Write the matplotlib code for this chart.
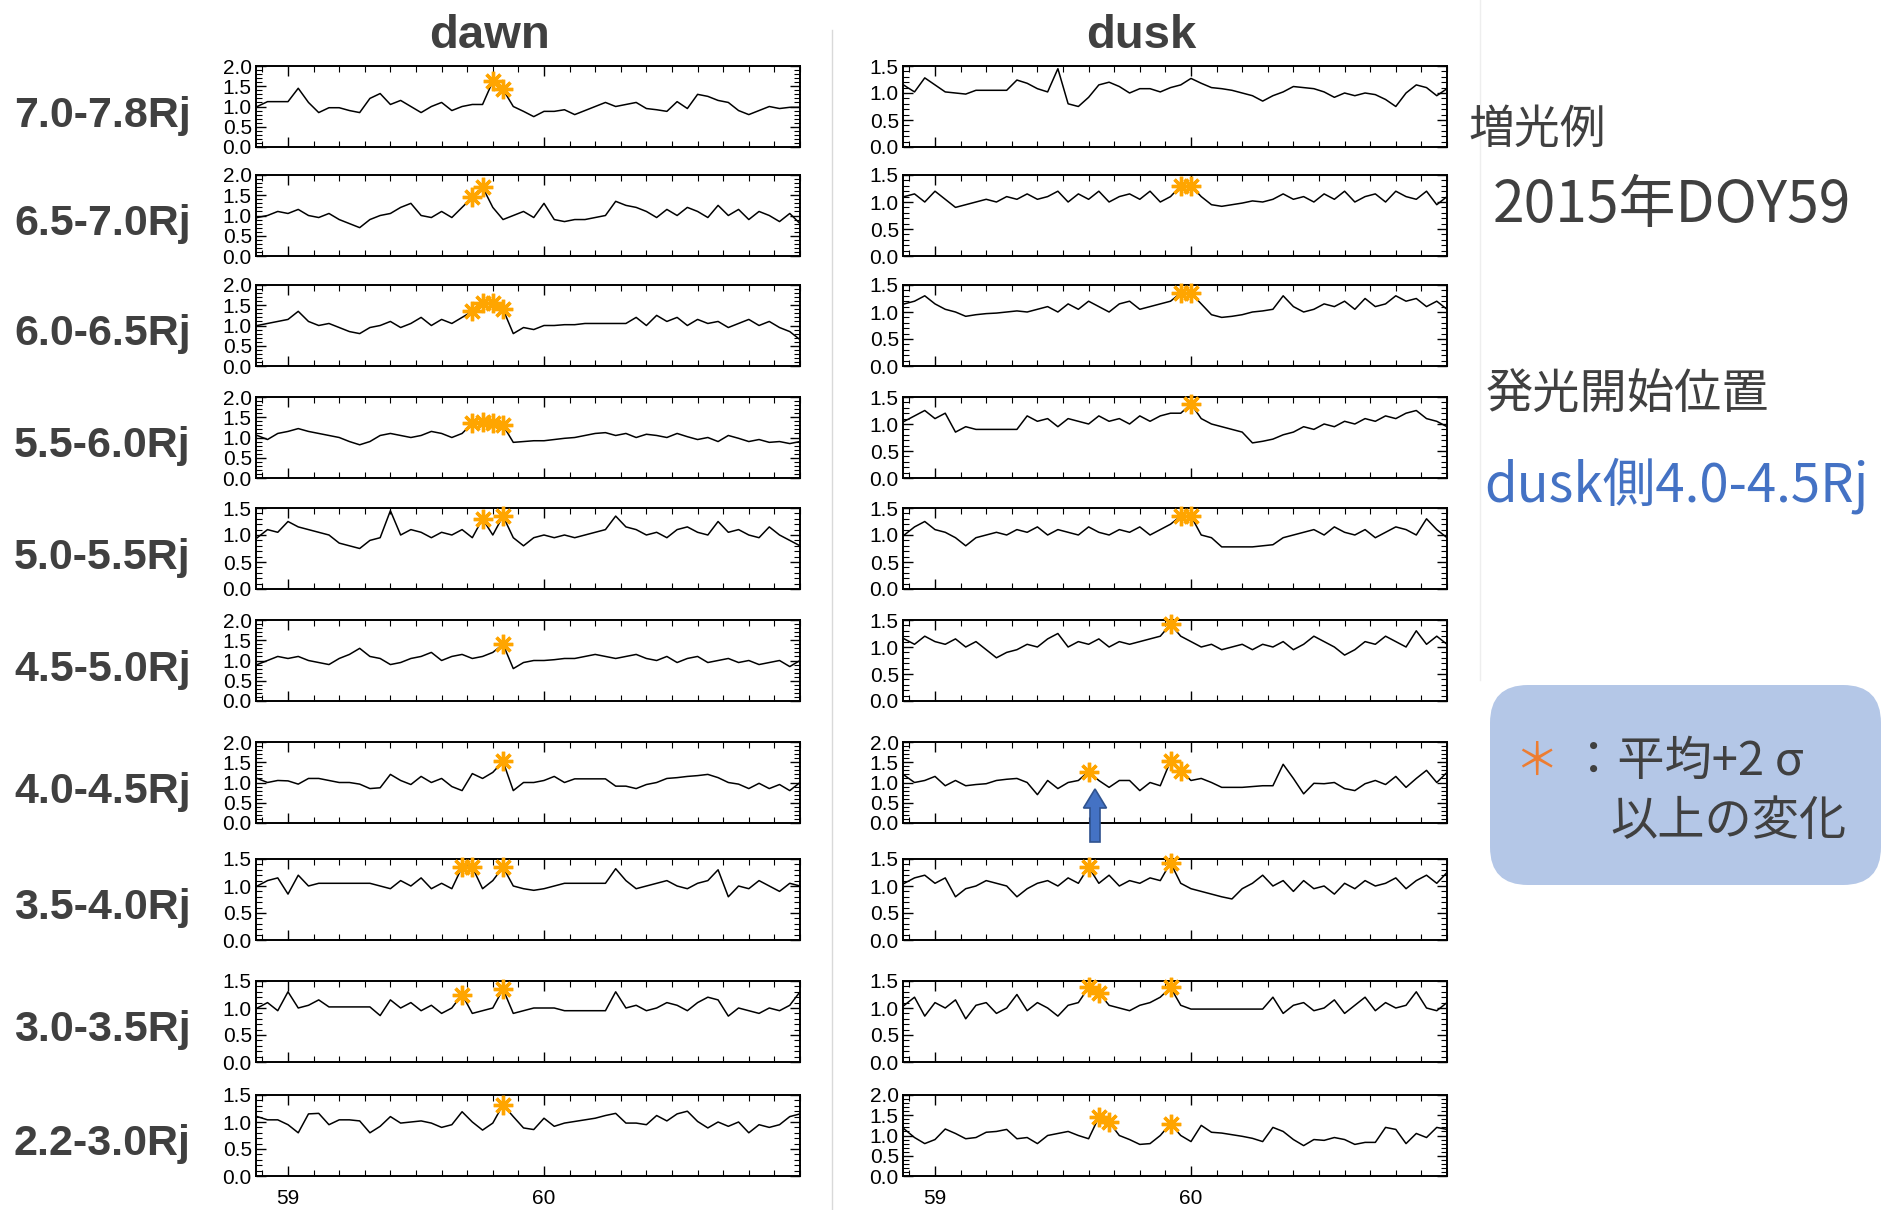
import numpy as np
import matplotlib.pyplot as plt
from matplotlib.patches import FancyArrow, FancyBboxPatch
from matplotlib.ticker import MultipleLocator, FormatStrFormatter

plt.rcParams['font.family'] = ['Liberation Sans', 'DejaVu Sans']

# day of year 2015, one sample every 0.04 day
doy = np.round(58.88 + 0.04 * np.arange(54), 2)

row_names = ['7.0-7.8Rj', '6.5-7.0Rj', '6.0-6.5Rj', '5.5-6.0Rj', '5.0-5.5Rj',
             '4.5-5.0Rj', '4.0-4.5Rj', '3.5-4.0Rj', '3.0-3.5Rj', '2.2-3.0Rj']

# ---- dawn side (normalised brightness) ----
dawn_7_0 = [1.0, 1.12, 1.12, 1.12, 1.45, 1.1, 0.85, 0.97, 0.97, 0.9,
            0.85, 1.2, 1.32, 1.05, 1.15, 1.0, 0.85, 1.0, 1.1, 0.9,
            1.0, 1.05, 1.05, 1.62, 1.42, 1.0, 0.88, 0.75, 0.88, 0.88,
            0.92, 0.8, 0.9, 1.0, 1.1, 1.0, 1.05, 1.1, 0.95, 0.92,
            0.88, 1.12, 0.95, 1.3, 1.25, 1.15, 1.1, 0.9, 0.8, 0.9,
            1.0, 0.95, 0.98, 0.98]
dawn_6_5 = [0.95, 1.0, 1.1, 1.05, 1.15, 1.0, 0.95, 1.05, 0.9, 0.8,
            0.7, 0.9, 1.0, 1.05, 1.2, 1.3, 1.0, 0.95, 1.1, 0.95,
            1.2, 1.45, 1.7, 1.2, 0.9, 1.0, 1.1, 0.95, 1.3, 0.9,
            0.85, 0.9, 0.9, 0.95, 1.0, 1.35, 1.25, 1.2, 1.1, 0.95,
            1.15, 1.0, 1.2, 1.1, 0.95, 1.25, 1.0, 1.15, 0.9, 1.1,
            1.0, 0.85, 1.05, 0.8]
dawn_6_0 = [1.0, 1.05, 1.1, 1.15, 1.35, 1.1, 1.0, 1.05, 0.95, 0.85,
            0.8, 0.95, 1.0, 1.1, 0.95, 1.05, 1.2, 1.0, 1.15, 1.05,
            1.2, 1.35, 1.55, 1.55, 1.4, 0.8, 0.95, 0.9, 1.0, 1.0,
            1.02, 1.02, 1.05, 1.05, 1.05, 1.05, 1.05, 1.2, 1.0, 1.25,
            1.1, 1.2, 1.0, 1.15, 1.05, 1.1, 0.95, 1.05, 1.15, 1.0,
            1.1, 0.95, 0.85, 0.65]
dawn_5_5 = [1.05, 0.95, 1.1, 1.15, 1.22, 1.15, 1.1, 1.05, 1.0, 0.9,
            0.82, 0.9, 1.05, 1.1, 1.05, 1.0, 1.05, 1.15, 1.1, 1.0,
            1.1, 1.35, 1.38, 1.35, 1.3, 0.88, 0.9, 0.92, 0.92, 0.95,
            0.98, 1.0, 1.05, 1.1, 1.12, 1.05, 1.1, 1.0, 1.08, 1.05,
            1.0, 1.1, 1.02, 0.95, 1.0, 0.9, 1.05, 0.98, 0.9, 0.95,
            0.88, 0.9, 0.85, 0.9]
dawn_5_0 = [0.95, 1.1, 1.05, 1.25, 1.15, 1.1, 1.05, 1.0, 0.85, 0.8,
            0.75, 0.9, 0.95, 1.45, 1.0, 1.1, 1.05, 0.95, 1.05, 1.0,
            1.1, 0.95, 1.3, 1.0, 1.35, 0.95, 0.8, 0.95, 1.0, 0.95,
            1.0, 0.95, 1.0, 1.05, 1.1, 1.35, 1.15, 1.1, 1.0, 1.05,
            0.95, 1.1, 1.15, 1.05, 1.0, 1.25, 1.05, 1.1, 1.0, 0.95,
            1.15, 1.0, 0.9, 0.8]
dawn_4_5 = [0.9, 1.0, 1.1, 1.05, 1.1, 1.0, 0.95, 0.9, 1.05, 1.15,
            1.3, 1.1, 1.05, 0.9, 0.95, 1.05, 1.1, 1.2, 1.0, 1.1,
            1.15, 1.05, 1.1, 1.2, 1.4, 0.8, 0.95, 1.0, 1.0, 1.02,
            1.05, 1.05, 1.1, 1.15, 1.1, 1.05, 1.1, 1.15, 1.05, 1.0,
            1.1, 0.95, 1.05, 1.1, 0.95, 1.0, 1.05, 0.95, 1.0, 0.9,
            0.95, 1.0, 0.85, 1.0]
dawn_4_0 = [1.1, 1.0, 1.05, 1.04, 0.96, 1.1, 1.1, 1.05, 1.0, 1.0,
            0.96, 0.85, 0.87, 1.2, 1.05, 0.95, 1.15, 1.0, 1.1, 0.9,
            0.8, 1.22, 1.1, 1.25, 1.52, 0.8, 1.0, 1.0, 1.05, 1.15,
            1.0, 1.09, 1.09, 1.09, 1.09, 0.91, 0.91, 0.85, 0.95, 1.0,
            1.1, 1.12, 1.15, 1.17, 1.2, 1.12, 1.0, 0.96, 0.85, 0.98,
            0.85, 0.95, 0.8, 1.0]
dawn_3_5 = [1.0, 1.1, 1.15, 0.85, 1.2, 1.0, 1.05, 1.05, 1.05, 1.05,
            1.05, 1.05, 1.0, 0.95, 1.1, 1.0, 1.15, 0.95, 1.05, 0.95,
            1.35, 1.35, 0.95, 1.1, 1.35, 1.0, 0.95, 0.92, 0.95, 1.0,
            1.05, 1.05, 1.05, 1.05, 1.05, 1.32, 1.1, 0.95, 1.0, 1.05,
            1.1, 1.0, 0.95, 1.05, 1.1, 1.3, 0.8, 1.0, 0.95, 1.1,
            1.0, 0.9, 1.05, 1.0]
dawn_3_0 = [1.0, 1.1, 0.95, 1.3, 1.0, 1.05, 1.15, 1.02, 1.02, 1.02,
            1.02, 1.02, 0.86, 1.15, 1.0, 1.1, 0.95, 1.05, 0.9, 1.0,
            1.25, 0.9, 0.95, 1.0, 1.35, 0.9, 0.95, 1.0, 1.0, 1.0,
            0.95, 0.95, 0.95, 0.95, 0.95, 1.3, 1.0, 1.05, 0.95, 1.0,
            1.1, 1.05, 0.95, 1.1, 1.2, 1.15, 0.85, 1.0, 0.95, 0.9,
            1.0, 0.95, 1.05, 1.3]
dawn_2_2 = [1.1, 1.04, 1.04, 0.95, 0.8, 1.15, 1.16, 0.95, 1.04, 1.04,
            1.02, 0.8, 0.92, 1.1, 0.98, 1.0, 1.02, 0.98, 0.9, 0.95,
            1.19, 1.0, 0.85, 0.98, 1.32, 1.1, 0.89, 0.86, 1.07, 0.92,
            0.98, 1.01, 1.04, 1.07, 1.12, 1.16, 0.98, 0.98, 0.95, 1.12,
            1.02, 1.15, 1.2, 1.01, 0.89, 1.0, 0.92, 1.0, 0.8, 0.95,
            0.9, 0.95, 1.1, 1.15]

# ---- dusk side ----
dusk_7_0 = [1.14, 1.02, 1.28, 1.15, 1.02, 1.0, 0.98, 1.05, 1.05, 1.05,
            1.05, 1.24, 1.18, 1.08, 1.02, 1.45, 0.8, 0.75, 0.92, 1.15,
            1.2, 1.12, 1.0, 1.08, 1.08, 1.02, 1.1, 1.15, 1.27, 1.18,
            1.1, 1.08, 1.05, 1.0, 0.95, 0.85, 0.95, 1.02, 1.12, 1.1,
            1.08, 1.02, 0.92, 1.0, 0.95, 1.0, 0.97, 0.88, 0.75, 1.0,
            1.15, 1.1, 0.95, 1.08]
dusk_6_5 = [1.1, 1.15, 1.0, 1.2, 1.05, 0.9, 0.95, 1.0, 1.05, 1.0,
            1.1, 1.05, 1.15, 1.05, 1.1, 1.2, 1.0, 1.15, 1.05, 1.2,
            1.0, 1.1, 1.15, 1.05, 1.2, 1.0, 1.1, 1.3, 1.3, 1.1,
            0.95, 0.92, 0.95, 0.98, 1.02, 1.0, 1.05, 1.15, 1.05, 1.1,
            1.0, 1.15, 1.05, 1.2, 1.0, 1.1, 1.15, 1.0, 1.2, 1.1,
            1.05, 1.2, 0.95, 1.1]
dusk_6_0 = [1.15, 1.2, 1.3, 1.15, 1.05, 1.0, 0.92, 0.95, 0.97, 0.98,
            1.0, 1.02, 1.0, 1.05, 1.1, 1.0, 1.15, 1.05, 1.2, 1.1,
            1.0, 1.15, 1.2, 1.05, 1.1, 1.15, 1.2, 1.35, 1.35, 1.15,
            0.95, 0.9, 0.92, 0.95, 1.0, 1.02, 1.05, 1.3, 1.1, 1.0,
            1.05, 1.15, 1.1, 1.2, 1.05, 1.25, 1.1, 1.15, 1.3, 1.2,
            1.25, 1.1, 1.2, 1.05]
dusk_5_5 = [1.05, 1.15, 1.25, 1.1, 1.2, 0.85, 0.95, 0.9, 0.9, 0.9,
            0.9, 0.9, 1.15, 1.05, 1.1, 0.95, 1.1, 1.05, 1.0, 1.15,
            1.05, 1.1, 1.0, 1.15, 1.05, 1.15, 1.2, 1.2, 1.37, 1.1,
            1.0, 0.95, 0.9, 0.85, 0.65, 0.68, 0.72, 0.8, 0.85, 0.95,
            0.9, 1.0, 0.95, 1.05, 1.0, 1.1, 1.05, 1.15, 1.1, 1.2,
            1.25, 1.1, 1.05, 0.95]
dusk_5_0 = [1.0, 1.15, 1.25, 1.1, 1.05, 0.95, 0.8, 0.95, 1.0, 1.05,
            1.0, 1.1, 1.05, 1.15, 1.0, 1.1, 1.05, 1.0, 1.15, 1.05,
            1.0, 1.1, 1.05, 1.15, 1.0, 1.1, 1.2, 1.35, 1.35, 1.0,
            0.95, 0.78, 0.78, 0.78, 0.78, 0.8, 0.82, 0.95, 1.0, 1.05,
            1.1, 1.0, 1.15, 1.05, 1.0, 1.1, 0.95, 1.05, 1.15, 1.1,
            1.0, 1.3, 1.1, 0.95]
dusk_4_5 = [1.15, 1.05, 1.2, 1.1, 1.05, 1.15, 1.0, 1.1, 0.95, 0.8,
            0.9, 0.95, 1.05, 1.0, 1.15, 1.25, 1.0, 1.1, 1.05, 1.15,
            1.0, 1.1, 1.05, 1.1, 1.15, 1.2, 1.42, 1.2, 1.1, 1.0,
            1.05, 0.95, 1.0, 1.05, 0.95, 1.05, 1.0, 1.1, 0.95, 1.05,
            1.2, 1.1, 1.0, 0.85, 0.95, 1.1, 1.05, 1.2, 1.1, 1.0,
            1.3, 1.05, 1.2, 1.05]
dusk_4_0 = [1.18, 1.0, 1.05, 1.15, 0.92, 1.05, 0.92, 0.95, 0.97, 1.05,
            1.08, 1.1, 1.0, 0.7, 1.05, 0.85, 1.0, 1.05, 1.27, 1.05,
            0.88, 1.05, 1.05, 0.8, 1.0, 0.92, 1.53, 1.29, 1.05, 1.1,
            1.0, 0.88, 0.88, 0.88, 0.9, 0.92, 0.92, 1.45, 1.1, 0.72,
            0.98, 0.97, 1.0, 0.85, 0.8, 0.97, 1.05, 0.95, 1.15, 0.88,
            1.1, 1.3, 1.0, 1.25]
dusk_3_5 = [1.05, 1.15, 1.2, 1.05, 1.15, 0.8, 0.95, 1.0, 1.1, 1.05,
            1.0, 0.8, 0.95, 1.05, 1.1, 1.0, 1.15, 1.05, 1.35, 1.05,
            1.2, 1.0, 1.1, 1.05, 1.15, 1.1, 1.43, 1.05, 0.95, 0.9,
            0.85, 0.8, 0.76, 0.95, 1.05, 1.2, 1.0, 1.1, 0.9, 1.1,
            0.95, 1.0, 0.85, 1.05, 0.95, 1.1, 1.0, 1.05, 1.15, 0.95,
            1.1, 1.2, 1.05, 1.25]
dusk_3_0 = [1.05, 1.2, 0.85, 1.1, 1.0, 1.15, 0.8, 1.05, 1.1, 0.9,
            1.0, 1.25, 0.95, 1.1, 1.0, 0.85, 1.05, 1.1, 1.38, 1.28,
            1.05, 1.0, 0.95, 1.05, 1.1, 1.2, 1.38, 1.05, 0.98, 0.98,
            0.98, 0.98, 0.98, 0.98, 0.98, 0.98, 1.2, 0.9, 1.05, 1.1,
            0.95, 1.0, 1.15, 0.9, 1.05, 1.2, 0.95, 1.1, 1.0, 1.05,
            1.3, 1.0, 0.95, 1.1]
dusk_2_2 = [1.16, 0.95, 0.8, 0.9, 1.16, 1.05, 0.92, 0.95, 1.08, 1.1,
            1.15, 0.92, 0.95, 0.8, 1.0, 1.05, 1.1, 1.0, 0.92, 1.45,
            1.33, 1.0, 0.9, 0.78, 0.8, 1.0, 1.29, 1.0, 0.85, 1.25,
            1.08, 1.06, 1.02, 0.98, 0.93, 0.85, 1.2, 1.1, 0.9, 0.75,
            0.9, 0.88, 0.95, 0.9, 0.78, 0.83, 0.83, 1.2, 1.15, 0.8,
            1.05, 0.95, 1.2, 1.15]

dawn = [dawn_7_0, dawn_6_5, dawn_6_0, dawn_5_5, dawn_5_0,
        dawn_4_5, dawn_4_0, dawn_3_5, dawn_3_0, dawn_2_2]
dusk = [dusk_7_0, dusk_6_5, dusk_6_0, dusk_5_5, dusk_5_0,
        dusk_4_5, dusk_4_0, dusk_3_5, dusk_3_0, dusk_2_2]

# samples above mean + 2 sigma (indices into doy)
dawn_stars = [[23, 24], [21, 22], [21, 22, 23, 24], [21, 22, 23, 24], [22, 24],
              [24], [24], [20, 21, 24], [20, 24], [24]]
dusk_stars = [[], [27, 28], [27, 28], [28], [27, 28],
              [26], [18, 26, 27], [18, 26], [18, 19, 26], [19, 20, 26]]

dawn_ymax = [2.0, 2.0, 2.0, 2.0, 1.5, 2.0, 2.0, 1.5, 1.5, 1.5]
dusk_ymax = [1.5, 1.5, 1.5, 1.5, 1.5, 1.5, 2.0, 1.5, 1.5, 2.0]

# ---- layout (pixels) ----
W, H = 1883, 1210
col_left = [256, 903]
col_w = 544
row_top = [66, 175, 285, 397, 508, 620, 742, 859, 981, 1095]
row_h = 81
txt = '#404040'

fig = plt.figure(figsize=(W / 100, H / 100), dpi=100)


def panel(left, top, vals, stars, ymax, bottom_row):
    ax = fig.add_axes([left / W, 1 - (top + row_h) / H, col_w / W, row_h / H])
    v = np.array(vals)
    ax.plot(doy, v, color='black', lw=1.1)
    if stars:
        ax.plot(doy[stars], v[stars], ls='none', marker=(8, 2, 0), ms=14,
                mew=2.4, color='#FFA500', clip_on=False, zorder=3)
    ax.set_xlim(58.875, 61.0)
    ax.set_ylim(0, ymax)
    ax.set_xticks([59, 60])
    ax.xaxis.set_minor_locator(MultipleLocator(0.1))
    ax.set_yticks(np.arange(0, ymax + 0.01, 0.5))
    ax.yaxis.set_minor_locator(MultipleLocator(0.1))
    ax.yaxis.set_major_formatter(FormatStrFormatter('%.1f'))
    ax.tick_params(which='both', direction='in', top=True, right=True,
                   labelsize=15, colors='black')
    ax.tick_params(which='major', length=7, width=1)
    ax.tick_params(which='minor', length=4, width=0.8)
    ax.tick_params(axis='y', pad=3)
    ax.tick_params(axis='x', pad=9, labelbottom=bottom_row)
    for s in ax.spines.values():
        s.set_linewidth(1.4)
    return ax


for i in range(10):
    last = i == 9
    panel(col_left[0], row_top[i], dawn[i], dawn_stars[i], dawn_ymax[i], last)
    panel(col_left[1], row_top[i], dusk[i], dusk_stars[i], dusk_ymax[i], last)

# overlay in pixel coordinates for the slide annotations
ov = fig.add_axes([0, 0, 1, 1], zorder=5)
ov.set_xlim(0, W)
ov.set_ylim(H, 0)
ov.axis('off')
ov.patch.set_alpha(0)

ov.plot([832, 832], [30, H], color='#d9d9d9', lw=1)
ov.plot([1480, 1480], [0, 680], color='#eeeeee', lw=1)

for i, name in enumerate(row_names):
    ov.text(14, row_top[i] + row_h / 2 + 9, name, fontsize=31, fontweight='bold',
            color=txt, ha='left', va='center')

ov.text(490, 36, 'dawn', fontsize=34, fontweight='bold', color=txt, ha='center', va='center')
ov.text(1141, 36, 'dusk', fontsize=34, fontweight='bold', color=txt, ha='center', va='center')

cjk = ['Noto Sans CJK JP', 'DejaVu Sans']
ov.text(1468, 130, '増光例', fontsize=33, color=txt, family=cjk, ha='left', va='center')
ov.text(1493, 206, '2015年DOY59', fontsize=41, color=txt, family=cjk, ha='left', va='center')
ov.text(1486, 396, '発光開始位置', fontsize=34, color=txt, family=cjk, ha='left', va='center')
ov.text(1484, 486, 'dusk側4.0-4.5Rj', fontsize=38, color='#4472C4', family=cjk,
        ha='left', va='center')

box = FancyBboxPatch((1490, 685), 391, 200, boxstyle='round,pad=0,rounding_size=38',
                     fc='#B4C7E7', ec='none')
ov.add_patch(box)
ov.text(1514, 762, '＊', fontsize=32, color='#ED7D31', family=cjk, ha='left', va='center')
ov.text(1570, 762, '：平均+2 σ', fontsize=34, color=txt, family=cjk, ha='left', va='center')
ov.text(1610, 822, '以上の変化', fontsize=34, color=txt, family=cjk, ha='left', va='center')

arrow = FancyArrow(1095, 842, 0, -53, width=10, head_width=23, head_length=19,
                   length_includes_head=True, fc='#4472C4', ec='#2F528F', lw=1.2)
ov.add_patch(arrow)

fig.savefig('out.png', dpi=100)
